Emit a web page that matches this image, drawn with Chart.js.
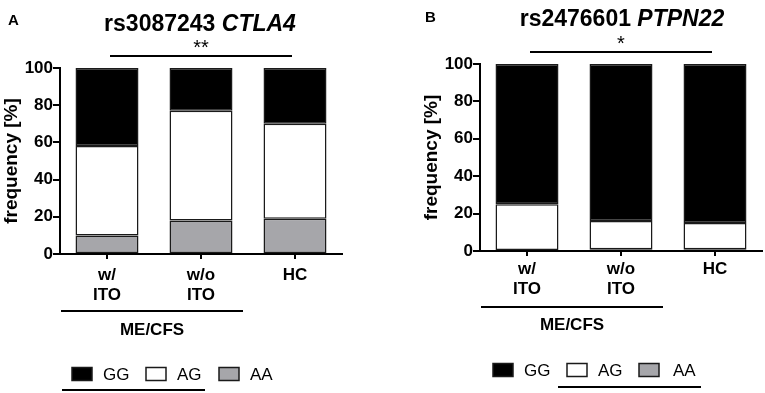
<!DOCTYPE html>
<html>
<head>
<meta charset="utf-8">
<script src="https://cdn.jsdelivr.net/npm/chart.js@4.4.0/dist/chart.umd.min.js"></script>
<style>
  html, body { margin: 0; padding: 0; background: #fff; }
  #wrap { position: relative; width: 765px; height: 393px; }
  .panel { position: absolute; top: 0; height: 393px; }
  #panelA { left: 0; width: 382px; }
  #panelB { left: 382px; width: 383px; }
</style>
</head>
<body>
<div id="wrap">
  <div class="panel" id="panelA"><canvas id="chartA"></canvas></div>
  <div class="panel" id="panelB"><canvas id="chartB"></canvas></div>
</div>
<script>
// groups on the x axis
const groups = [['w/', 'ITO'], ['w/o', 'ITO'], 'HC'];
const genotypes = ['GG', 'AG', 'AA'];

// rs3087243 CTLA4 - genotype frequency [%]
const ctla4GG = [42, 23, 30];
const ctla4AG = [48, 59, 51];
const ctla4AA = [10, 18, 19];

// rs2476601 PTPN22 - genotype frequency [%]
const ptpn22GG = [75, 84, 85];
const ptpn22AG = [25, 15, 14];
const ptpn22AA = [0, 1, 1];

const FONT = "'Liberation Sans', Arial, sans-serif";
const colors = { GG: '#000000', AG: '#ffffff', AA: '#a6a6aa' };

Chart.defaults.font.family = FONT;
Chart.defaults.font.size = 17;
Chart.defaults.color = '#000';

function makeDatasets(gg, ag, aa) {
  // stacked bottom -> top : AA, AG, GG
  return [
    { label: 'AA', data: aa },
    { label: 'AG', data: ag },
    { label: 'GG', data: gg }
  ].map(d => Object.assign(d, {
    backgroundColor: colors[d.label],
    borderColor: '#1a1a1a',
    borderWidth: 1.5,
    borderSkipped: false,
    barPercentage: 0.67,
    categoryPercentage: 1
  }));
}

// draws panel letter, title, significance bar, ME/CFS bracket and legend
const extras = {
  id: 'extras',
  afterDraw(chart, args, o) {
    const ctx = chart.ctx;
    const x = chart.scales.x;
    ctx.save();
    ctx.fillStyle = '#000';
    ctx.strokeStyle = '#000';

    // panel letter
    ctx.font = 'bold 15px ' + FONT;
    ctx.textAlign = 'left';
    ctx.textBaseline = 'middle';
    ctx.fillText(o.letter, o.letterX, o.letterY);

    // title: snp id bold, gene bold italic
    const f1 = 'bold 23px ' + FONT;
    const f2 = 'italic bold 23px ' + FONT;
    ctx.font = f1;
    const w1 = ctx.measureText(o.snp).width;
    ctx.font = f2;
    const w2 = ctx.measureText(o.gene).width;
    let tx = o.titleX - (w1 + w2) / 2;
    ctx.font = f1;
    ctx.fillText(o.snp, tx, o.titleY);
    ctx.font = f2;
    ctx.fillText(o.gene, tx + w1, o.titleY);

    // significance line
    ctx.lineWidth = 2;
    ctx.beginPath();
    ctx.moveTo(x.getPixelForValue(0) + 3, o.sigY);
    ctx.lineTo(x.getPixelForValue(2) - 3, o.sigY);
    ctx.stroke();
    ctx.font = '20px ' + FONT;
    ctx.textAlign = 'center';
    ctx.fillText(o.stars, (x.getPixelForValue(0) + x.getPixelForValue(2)) / 2, o.sigY - 8);

    // ME/CFS bracket
    const g0 = x.getPixelForValue(0) - 46;
    const g1 = x.getPixelForValue(1) + 42;
    ctx.beginPath();
    ctx.moveTo(g0, o.groupY);
    ctx.lineTo(g1, o.groupY);
    ctx.stroke();
    ctx.font = 'bold 17px ' + FONT;
    ctx.fillText('ME/CFS', (g0 + g1) / 2, o.groupLabelY);

    // legend
    ctx.textAlign = 'left';
    ctx.font = '17px ' + FONT;
    genotypes.forEach((g, i) => {
      const ds = chart.data.datasets.find(d => d.label === g);
      ctx.fillStyle = ds.backgroundColor;
      ctx.fillRect(o.legendX[i], o.legendY - 6.5, 20, 13);
      ctx.lineWidth = 1.5;
      ctx.strokeStyle = '#1a1a1a';
      ctx.strokeRect(o.legendX[i], o.legendY - 6.5, 20, 13);
      ctx.fillStyle = '#000';
      ctx.fillText(g, o.legendTextX[i], o.legendY + 1);
    });
    ctx.lineWidth = 2;
    ctx.strokeStyle = '#000';
    ctx.beginPath();
    ctx.moveTo(o.underline[0], o.underline[2]);
    ctx.lineTo(o.underline[1], o.underline[2]);
    ctx.stroke();

    ctx.restore();
  }
};

function makeChart(id, datasets, p) {
  return new Chart(document.getElementById(id), {
    type: 'bar',
    data: { labels: groups, datasets: datasets },
    plugins: [extras],
    options: {
      responsive: true,
      maintainAspectRatio: false,
      animation: false,
      layout: { padding: { left: p.padLeft, right: p.padRight, top: p.padTop, bottom: 0 } },
      plugins: {
        legend: { display: false },
        title: { display: false },
        tooltip: { enabled: false },
        extras: p.extras
      },
      scales: {
        x: {
          stacked: true,
          afterFit: s => { s.height = p.xHeight; },
          grid: { offset: false, drawOnChartArea: false, drawTicks: true, tickLength: 5, lineWidth: 2, color: '#000' },
          border: { display: true, width: 2, color: '#000' },
          ticks: { padding: p.xPad, font: { size: 17, weight: 'bold', lineHeight: 1.2 }, color: '#000', maxRotation: 0 }
        },
        y: {
          stacked: true,
          min: 0,
          max: 100,
          afterFit: s => { s.width = p.yWidth; },
          grid: { drawOnChartArea: false, drawTicks: true, tickLength: 7, lineWidth: 2, color: '#000' },
          border: { display: true, width: 2, color: '#000' },
          ticks: { stepSize: 20, padding: 0, font: { size: 17, weight: 'bold' }, color: '#000' },
          title: { display: true, text: 'frequency [%]', font: { size: 19, weight: 'bold' }, color: '#000', padding: 0 }
        }
      }
    }
  });
}

makeChart('chartA', makeDatasets(ctla4GG, ctla4AG, ctla4AA), {
  padLeft: 0, padRight: 40, padTop: 68, yWidth: 60, xHeight: 139, xPad: 6,
  extras: {
    letter: 'A', letterX: 8, letterY: 21,
    snp: 'rs3087243 ', gene: 'CTLA4', titleX: 200, titleY: 25,
    stars: '**', sigY: 56,
    groupY: 311, groupLabelY: 330,
    legendX: [72, 146, 219], legendTextX: [103, 177, 250], legendY: 374,
    underline: [62, 205, 390]
  }
});

makeChart('chartB', makeDatasets(ptpn22GG, ptpn22AG, ptpn22AA), {
  padLeft: 38, padRight: 3, padTop: 64, yWidth: 60, xHeight: 142, xPad: 3,
  extras: {
    letter: 'B', letterX: 43, letterY: 18,
    snp: 'rs2476601 ', gene: 'PTPN22', titleX: 240, titleY: 20,
    stars: '*', sigY: 52,
    groupY: 307, groupLabelY: 325,
    legendX: [111, 185, 257], legendTextX: [142, 216, 291], legendY: 370,
    underline: [176, 319, 387]
  }
});
</script>
</body>
</html>
